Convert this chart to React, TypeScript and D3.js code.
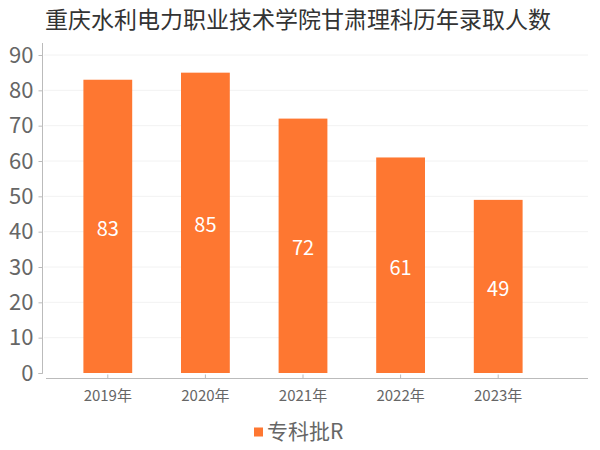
import * as d3 from 'd3';
import { useEffect, useRef } from 'react';

const title = '重庆水利电力职业技术学院甘肃理科历年录取人数';
const years = ['2019年', '2020年', '2021年', '2022年', '2023年'];
const counts = [83, 85, 72, 61, 49];
const yTicks = [0, 10, 20, 30, 40, 50, 60, 70, 80, 90];
const seriesName = '专科批R';

const W = 600;
const H = 450;
const FONT = '"Noto Sans CJK SC", "Noto Sans", sans-serif';

export default function App() {
  const svgRef = useRef<SVGSVGElement>(null);

  useEffect(() => {
    if (!svgRef.current) return;
    const svg = d3.select(svgRef.current);
    svg.selectAll('*').remove();

    const x = d3.scaleBand().domain(years).range([59, 547]).paddingInner(0.5).paddingOuter(0.25);
    const y = d3.scaleLinear().domain([0, 90]).range([373, 55]);

    // title
    svg.append('text')
      .attr('x', 298)
      .attr('y', 28)
      .attr('text-anchor', 'middle')
      .style('font-size', '23px')
      .style('fill', '#333')
      .text(title);

    // grid
    svg.append('g')
      .selectAll('line')
      .data(yTicks.slice(1))
      .enter()
      .append('line')
      .attr('x1', 44)
      .attr('x2', 588)
      .attr('y1', d => y(d))
      .attr('y2', d => y(d))
      .attr('stroke', '#f2f2f2')
      .attr('stroke-width', 1);

    // y axis
    const yAxis = svg.append('g')
      .attr('transform', 'translate(42.5,0)')
      .call(d3.axisLeft(y).tickValues(yTicks).tickSize(4).tickPadding(5));
    yAxis.select('.domain').attr('stroke', '#bbb').attr('d', `M-4,${y(0) + 0.5}H0V43`);
    yAxis.selectAll('.tick line').attr('stroke', '#bbb');
    yAxis.selectAll('text')
      .style('font-size', '22px')
      .style('font-family', FONT)
      .attr('fill', '#666');

    // bars
    svg.append('g')
      .selectAll('rect')
      .data(counts)
      .enter()
      .append('rect')
      .attr('x', (d, i) => x(years[i])!)
      .attr('y', d => y(d))
      .attr('width', x.bandwidth())
      .attr('height', d => y(0) - y(d))
      .attr('fill', '#fe7731');

    // bar labels
    svg.append('g')
      .selectAll('text')
      .data(counts)
      .enter()
      .append('text')
      .attr('x', (d, i) => x(years[i])! + x.bandwidth() / 2)
      .attr('y', d => (y(d) + y(0)) / 2 + 2.5)
      .attr('dy', '0.35em')
      .attr('text-anchor', 'middle')
      .style('font-size', '20px')
      .style('fill', '#fff')
      .text(d => d);

    // x axis
    const xAxis = svg.append('g')
      .attr('transform', 'translate(0,378.5)')
      .call(d3.axisBottom(x).tickSize(4).tickPadding(8));
    xAxis.select('.domain').attr('stroke', '#bbb').attr('d', 'M46,0H588');
    xAxis.selectAll('.tick line').attr('stroke', '#bbb').attr('y1', -4).attr('y2', 0);
    xAxis.selectAll('text')
      .style('font-size', '15px')
      .style('font-family', FONT)
      .attr('fill', '#666');

    // legend
    const legend = svg.append('g').attr('transform', 'translate(254,432)');
    legend.append('rect')
      .attr('x', 0)
      .attr('y', -4.5)
      .attr('width', 9)
      .attr('height', 9)
      .attr('fill', '#fe7731');
    legend.append('text')
      .attr('x', 13)
      .attr('y', 0)
      .attr('dy', '0.35em')
      .style('font-size', '21px')
      .style('fill', '#666')
      .text(seriesName);
  }, []);

  return (
    <svg
      ref={svgRef}
      width={W}
      height={H}
      style={{ position: 'absolute', left: 0, top: 0, fontFamily: FONT, background: '#fff' }}
    />
  );
}
